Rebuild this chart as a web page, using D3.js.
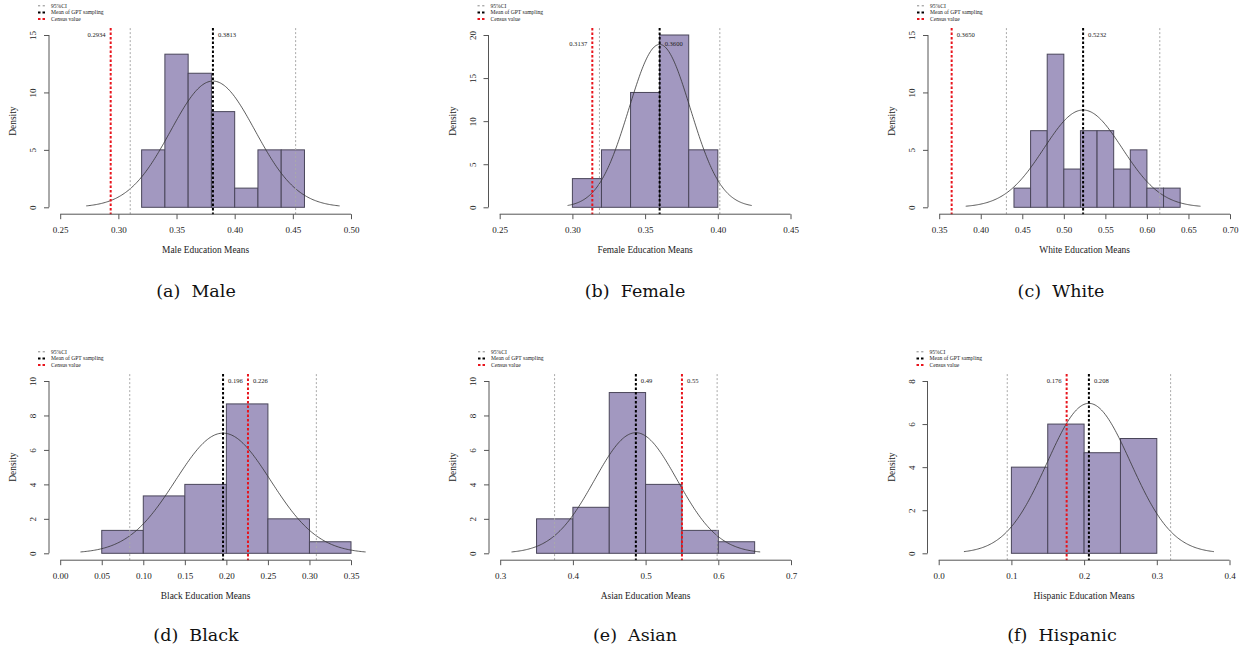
<!DOCTYPE html>
<html>
<head>
<meta charset="utf-8">
<script src="https://cdn.jsdelivr.net/npm/d3@7/dist/d3.min.js"></script>
<style>
  html, body { margin: 0; padding: 0; background: #fff; }
  svg { display: block; }
</style>
</head>
<body>
<svg id="chart" width="1248" height="649"></svg>
<script>
// ---------------- DATA ----------------
const groups = ["Male", "Female", "White", "Black", "Asian", "Hispanic"];
const captions = ["(a)  Male", "(b)  Female", "(c)  White", "(d)  Black", "(e)  Asian", "(f)  Hispanic"];
const xTitles = ["Male Education Means", "Female Education Means", "White Education Means",
                 "Black Education Means", "Asian Education Means", "Hispanic Education Means"];

const binStart = [0.32, 0.30, 0.44, 0.05, 0.35, 0.10];
const binWidth = [0.02, 0.02, 0.02, 0.05, 0.05, 0.05];
const densMale     = [5, 13.33, 11.67, 8.33, 1.67, 5, 5];
const densFemale   = [3.33, 6.67, 13.33, 20, 6.67];
const densWhite    = [1.67, 6.67, 13.33, 3.33, 6.67, 6.67, 3.33, 5, 1.67, 1.67];
const densBlack    = [1.33, 3.33, 4, 8.67, 2, 0.67];
const densAsian    = [2, 2.67, 9.33, 4, 1.33, 0.67];
const densHispanic = [4, 6, 4.67, 5.33];
const densities = [densMale, densFemale, densWhite, densBlack, densAsian, densHispanic];

const means       = [0.3813, 0.3600, 0.5232, 0.196, 0.4866, 0.2066];
const meanLabels  = ["0.3813", "0.3600", "0.5232", "0.196", "0.49", "0.208"];
const sds         = [0.0363, 0.0211, 0.0471, 0.0572, 0.0570, 0.0573];
const ciLow       = [0.3102, 0.3186, 0.4309, 0.0837, 0.3748, 0.0943];
const ciHigh      = [0.4524, 0.4014, 0.6155, 0.3083, 0.5984, 0.3190];
const census      = [0.2934, 0.3137, 0.3650, 0.226, 0.55, 0.176];
const censusLabels = ["0.2934", "0.3137", "0.3650", "0.226", "0.55", "0.176"];
const censusLabelSide = ["left", "left", "right", "right", "right", "left"];
const labelY = [15, 19, 15, 10, 10, 8];

const xTickVals = [
  [0.25, 0.30, 0.35, 0.40, 0.45, 0.50],
  [0.25, 0.30, 0.35, 0.40, 0.45],
  [0.35, 0.40, 0.45, 0.50, 0.55, 0.60, 0.65, 0.70],
  [0.00, 0.05, 0.10, 0.15, 0.20, 0.25, 0.30, 0.35],
  [0.3, 0.4, 0.5, 0.6, 0.7],
  [0.0, 0.1, 0.2, 0.3, 0.4]
];
const xTickLabels = [
  ["0.25", "0.30", "0.35", "0.40", "0.45", "0.50"],
  ["0.25", "0.30", "0.35", "0.40", "0.45"],
  ["0.35", "0.40", "0.45", "0.50", "0.55", "0.60", "0.65", "0.70"],
  ["0.00", "0.05", "0.10", "0.15", "0.20", "0.25", "0.30", "0.35"],
  ["0.3", "0.4", "0.5", "0.6", "0.7"],
  ["0.0", "0.1", "0.2", "0.3", "0.4"]
];
const yTickVals = [
  [0, 5, 10, 15],
  [0, 5, 10, 15, 20],
  [0, 5, 10, 15],
  [0, 2, 4, 6, 8, 10],
  [0, 2, 4, 6, 8, 10],
  [0, 2, 4, 6, 8]
];
const legendLabels = ["95%CI", "Mean of GPT sampling", "Census value"];

// ---------------- LAYOUT ----------------
const axisX0 = [49, 488.5, 928, 49, 489, 927.5];
const panelRow = [0, 0, 0, 1, 1, 1];
const rowOffset = [0, 346];
const captionX = [196, 635, 1061, 196, 635, 1062];
const captionY = [297, 641];

const serif = "'Liberation Serif', 'Times New Roman', serif";
const capFont = "'DejaVu Serif', serif";
const barFill = "#a298c0";
const barStroke = "#4a465a";
const axisColor = "#555";

const svg = d3.select("#chart");
svg.append("rect").attr("width", 1248).attr("height", 649).attr("fill", "#fff");

function dnorm(x, m, s) {
  return Math.exp(-0.5 * ((x - m) / s) ** 2) / (s * Math.sqrt(2 * Math.PI));
}

groups.forEach((g, i) => {
  const X0 = axisX0[i];
  const off = rowOffset[panelRow[i]];
  const zeroY = 207.3 + off, topY = 35 + off;
  const yt = yTickVals[i], xt = xTickVals[i];
  const x = d3.scaleLinear().domain([xt[0], xt[xt.length - 1]]).range([X0 + 11.2, X0 + 302]);
  const y = d3.scaleLinear().domain([0, yt[yt.length - 1]]).range([zeroY, topY]);
  const ext = (zeroY - topY) * 0.04;
  const regTop = topY - ext, regBot = zeroY + ext;

  const p = svg.append("g");

  // bars
  const dens = densities[i];
  p.selectAll("rect.bar").data(dens).enter().append("rect")
    .attr("x", (d, k) => x(binStart[i] + k * binWidth[i]))
    .attr("width", (d, k) => x(binStart[i] + (k + 1) * binWidth[i]) - x(binStart[i] + k * binWidth[i]))
    .attr("y", d => y(d))
    .attr("height", d => y(0) - y(d))
    .attr("fill", barFill)
    .attr("stroke", barStroke)
    .attr("stroke-width", 1);

  // normal curve
  const m = means[i], s = sds[i];
  const pts = d3.range(0, 201).map(k => m - 3 * s + k * 6 * s / 200);
  p.append("path")
    .datum(pts)
    .attr("fill", "none")
    .attr("stroke", "#333")
    .attr("stroke-width", 0.8)
    .attr("d", d3.line().x(v => x(v)).y(v => y(dnorm(v, m, s))));

  // vertical reference lines
  const vline = (v, color, w, dash) => p.append("line")
    .attr("x1", x(v)).attr("x2", x(v))
    .attr("y1", regTop).attr("y2", regBot)
    .attr("stroke", color).attr("stroke-width", w).attr("stroke-dasharray", dash);
  vline(ciLow[i], "#aaa", 1, "2,2");
  vline(ciHigh[i], "#aaa", 1, "2,2");
  vline(census[i], "#e8141c", 2, "2.5,2");
  vline(m, "#000", 2, "2.5,2");

  // value labels
  const ly = y(labelY[i]) + 2.3;
  p.append("text").attr("x", x(m) + 5).attr("y", ly)
    .attr("font-family", serif).attr("font-size", 6.6).attr("fill", "#222")
    .text(meanLabels[i]);
  const left = censusLabelSide[i] === "left";
  p.append("text").attr("x", x(census[i]) + (left ? -5 : 5)).attr("y", ly)
    .attr("text-anchor", left ? "end" : "start")
    .attr("font-family", serif).attr("font-size", 6.6).attr("fill", "#222")
    .text(censusLabels[i]);

  // x axis
  const xa = p.append("g").attr("transform", `translate(0,${regBot})`)
    .call(d3.axisBottom(x).tickValues(xt).tickFormat((d, k) => xTickLabels[i][k]).tickSize(5).tickSizeOuter(0));
  xa.select(".domain").remove();
  xa.append("line").attr("x1", x(xt[0])).attr("x2", x(xt[xt.length - 1]))
    .attr("stroke", axisColor).attr("stroke-width", 1);
  xa.selectAll(".tick line").attr("stroke", axisColor);
  xa.selectAll(".tick text").attr("font-family", serif).attr("font-size", 9)
    .attr("fill", "#222").attr("dy", null).attr("y", 18.8);

  // y axis
  const ya = p.append("g").attr("transform", `translate(${X0},0)`)
    .call(d3.axisLeft(y).tickValues(yt).tickFormat(d3.format("d")).tickSize(5).tickSizeOuter(0));
  ya.select(".domain").remove();
  ya.append("line").attr("y1", y(yt[0])).attr("y2", y(yt[yt.length - 1]))
    .attr("stroke", axisColor).attr("stroke-width", 1);
  ya.selectAll(".tick line").attr("stroke", axisColor);
  ya.selectAll(".tick text").attr("font-family", serif).attr("font-size", 9)
    .attr("fill", "#222").attr("x", null).attr("dy", null)
    .attr("text-anchor", "middle")
    .attr("transform", "translate(-13,0) rotate(-90)");

  // axis titles
  p.append("text").attr("x", (x(xt[0]) + x(xt[xt.length - 1])) / 2).attr("y", regBot + 38.5)
    .attr("text-anchor", "middle").attr("font-family", serif).attr("font-size", 9.4).attr("fill", "#222")
    .text(xTitles[i]);
  p.append("text")
    .attr("transform", `translate(${X0 - 33},${(regTop + regBot) / 2}) rotate(-90)`)
    .attr("text-anchor", "middle").attr("font-family", serif).attr("font-size", 9.4).attr("fill", "#222")
    .text("Density");

  // legend
  const lgX = X0 - 11;
  const lgY = [5.8 + off, 12.4 + off, 19 + off];
  const lgStyle = [["#888", 1, "2.2,2.5"], ["#000", 2, "2.5,2"], ["#e8141c", 2, "2.5,2"]];
  legendLabels.forEach((lab, k) => {
    p.append("line").attr("x1", lgX).attr("x2", lgX + 8).attr("y1", lgY[k]).attr("y2", lgY[k])
      .attr("stroke", lgStyle[k][0]).attr("stroke-width", lgStyle[k][1]).attr("stroke-dasharray", lgStyle[k][2]);
    p.append("text").attr("x", lgX + 13).attr("y", lgY[k] + 1.8)
      .attr("font-family", serif).attr("font-size", 5.6).attr("fill", "#222").text(lab);
  });

  // caption
  svg.append("text").attr("x", captionX[i]).attr("y", captionY[panelRow[i]])
    .attr("text-anchor", "middle").attr("font-family", capFont).attr("font-size", 17.5)
    .attr("fill", "#111").attr("xml:space", "preserve").style("white-space", "pre")
    .text(captions[i]);
});
</script>
</body>
</html>
